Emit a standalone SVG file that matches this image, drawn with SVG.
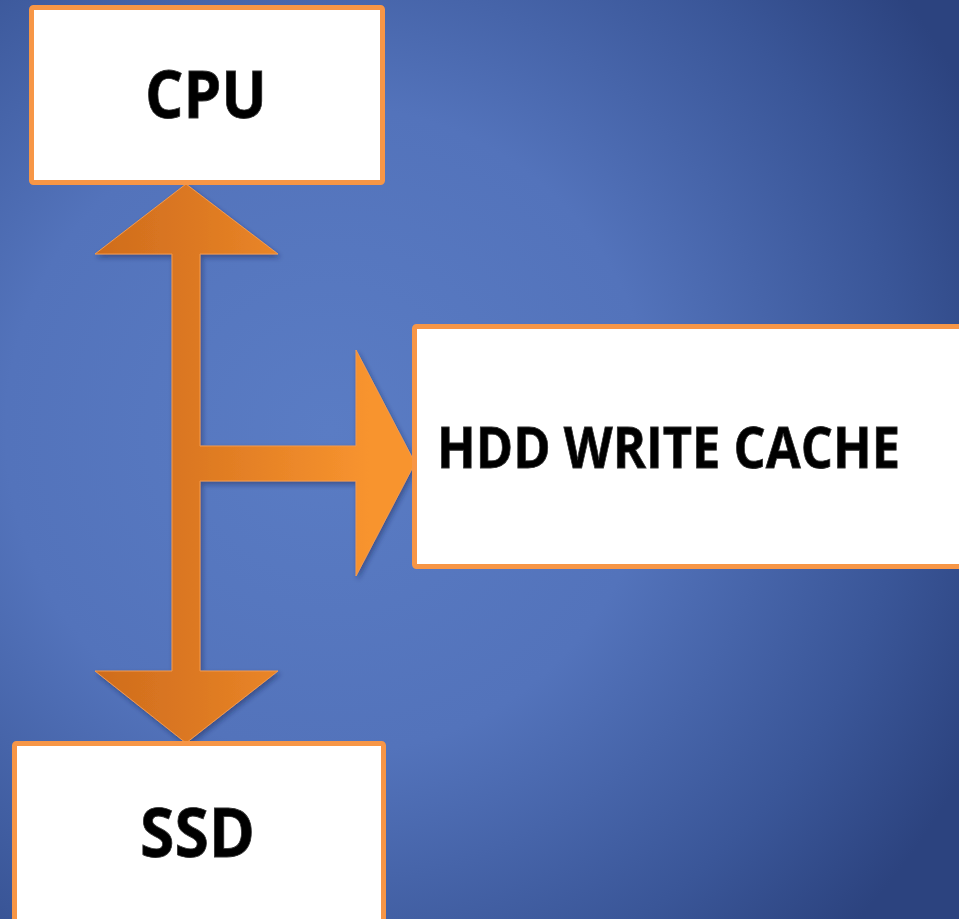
<svg xmlns="http://www.w3.org/2000/svg" width="959" height="919" viewBox="0 0 959 919">
  <defs>
    <radialGradient id="bg" gradientUnits="userSpaceOnUse" cx="330" cy="430" r="720" fx="330" fy="430">
      <stop offset="0" stop-color="#5A7CC4"/>
      <stop offset="0.45" stop-color="#5373BB"/>
      <stop offset="0.8" stop-color="#3A5698"/>
      <stop offset="1" stop-color="#2C437F"/>
    </radialGradient>
    <linearGradient id="arrowGrad" gradientUnits="userSpaceOnUse" x1="95" y1="0" x2="370" y2="0">
      <stop offset="0" stop-color="#CF6C1D"/>
      <stop offset="0.4" stop-color="#DE7A22"/>
      <stop offset="1" stop-color="#F8942F"/>
    </linearGradient>
    <filter id="shadow" x="-10%" y="-10%" width="130%" height="130%">
      <feDropShadow dx="2" dy="3" stdDeviation="2.5" flood-color="#1a2850" flood-opacity="0.45"/>
    </filter>
  </defs>
  <style>
    .box { fill: #FFFFFF; stroke: #F79646; stroke-width: 5; }
    .label { font-family: "Open Sans", "Liberation Sans", sans-serif; font-weight: bold; fill: #000000; stroke: #333333; stroke-width: 0.8; text-anchor: middle; }
  </style>
  <rect x="0" y="0" width="959" height="919" fill="url(#bg)"/>

  <g id="connectors">
    <path d="M186,184 L278,254 L200,254 L200,446 L356,446 L356,350 L415,463 L356,576 L356,481 L200,481 L200,671 L278,671 L186,743 L95,671 L172,671 L172,254 L95,254 Z" fill="url(#arrowGrad)" stroke="#F59A4A" stroke-width="1" stroke-linejoin="miter" filter="url(#shadow)"/>
  </g>

  <g id="cpu">
    <rect class="box" x="31.5" y="7.5" width="351" height="175" rx="2"/>
    <text class="label" x="206" y="118" font-size="67" textLength="122" lengthAdjust="spacingAndGlyphs">CPU</text>
  </g>

  <g id="hdd">
    <rect class="box" x="414.5" y="326.5" width="560" height="240" rx="2"/>
    <text class="label" x="668.5" y="468" font-size="57" textLength="463" lengthAdjust="spacingAndGlyphs">HDD WRITE CACHE</text>
  </g>

  <g id="ssd">
    <rect class="box" x="14.5" y="743.5" width="369" height="190" rx="2"/>
    <text class="label" x="197.5" y="857" font-size="68" textLength="115" lengthAdjust="spacingAndGlyphs">SSD</text>
  </g>
</svg>
